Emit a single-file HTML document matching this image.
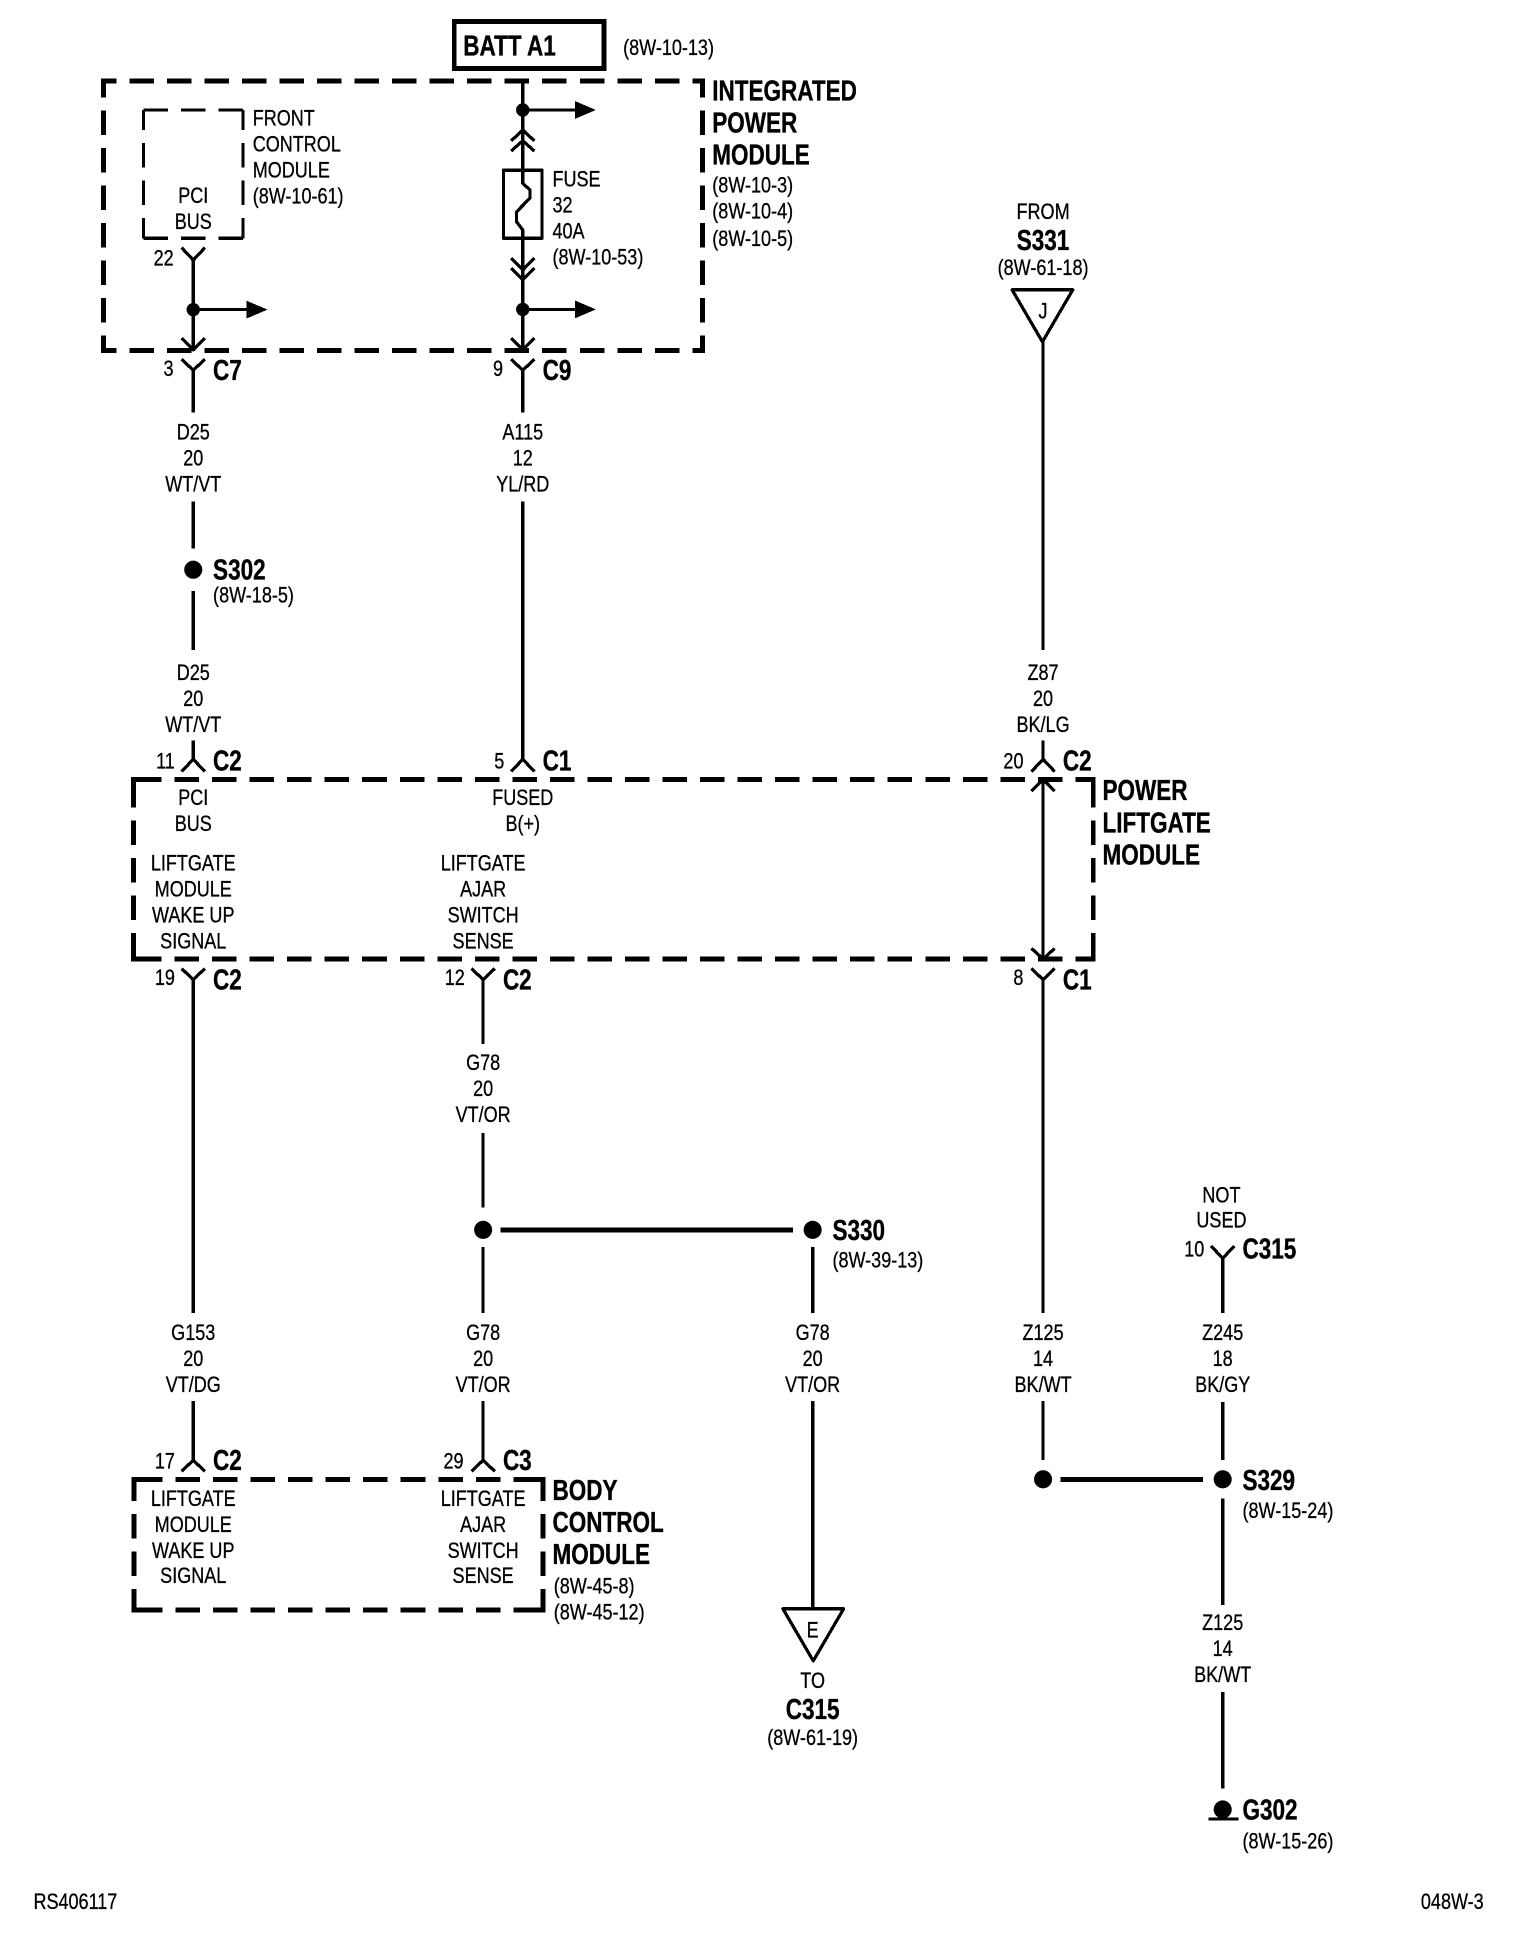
<!DOCTYPE html>
<html><head><meta charset="utf-8"><style>
html,body{margin:0;padding:0;background:#fff}
svg{display:block}
text{font-family:"Liberation Sans",Arial,sans-serif;fill:#000;stroke:#000;transform-box:fill-box}
.r{font-size:18.2px;stroke-width:.25;transform-origin:0 50%;transform:translateY(-.5px) scaleX(.8)}
.c{font-size:18.2px;stroke-width:.25;text-anchor:middle;transform-origin:50% 50%;transform:translateY(-1px) scaleX(.8)}
.b{font-size:23px;font-weight:bold;stroke-width:.3;transform-origin:0 50%;transform:scaleX(.79)}
.bc{font-size:23px;font-weight:bold;stroke-width:.3;text-anchor:middle;transform-origin:50% 50%;transform:scaleX(.79)}
.w{fill:none;stroke:#000;stroke-width:2.6;stroke-linejoin:round}
.t{fill:none;stroke:#000;stroke-width:4}
.d{fill:none;stroke:#000;stroke-width:4;stroke-dasharray:19.8 10.5}
.d2{fill:none;stroke:#000;stroke-width:2.5;stroke-dasharray:20 10.3}
path,rect{shape-rendering:crispEdges}
circle{shape-rendering:geometricPrecision}
</style></head><body>
<svg xmlns="http://www.w3.org/2000/svg" width="1520" height="1942" viewBox="0 0 1227 1568" preserveAspectRatio="none">
<rect width="1227" height="1568" fill="#fff"/>
<rect x="366.700" y="17.300" width="121" height="38" class="t"/>
<text x="374" y="45" class="b">BATT A1</text>
<text x="503" y="45" class="r">(8W-10-13)</text>

<!-- IPM -->
<path class="d" stroke-dashoffset="9.500" d="M83.600 65.300H567M83.600 283H567"/>
<path class="d" stroke-dashoffset="6.500" d="M83.600 65.300V283M567 65.300V283"/>
<path class="t" d="M83.600 70V65.300H88M562 65.300H567V70M83.600 278V283H88M562 283H567V278"/>
<!-- FCM -->
<path class="d2" d="M115.700 88.800H196M115.700 192.400H196"/>
<path class="d2" stroke-dashoffset="3.800" d="M115.700 88.800V192.400M196 88.800V192.400"/>
<!-- PLM -->
<path class="d" stroke-dashoffset="-3" d="M107.600 629.200H882.500M107.600 774.300H882.500"/>
<path class="d" stroke-dashoffset="-2.800" d="M107.600 629.200V774.300M882.500 629.200V774.300"/>
<path class="t" d="M107.600 634V629.200H112M878 629.200H882.500V634M107.600 770V774.300H112M878 774.300H882.500V770"/>
<!-- BCM -->
<path class="d" stroke-dashoffset="-3.400" d="M108 1194.500H438.500M108 1300H438.500"/>
<path class="d" stroke-dashoffset="2.300" d="M108 1194.500V1300M438.500 1194.500V1300"/>
<path class="t" d="M108 1199V1194.500H112M434 1194.500H438.500V1199M108 1296V1300H112M434 1300H438.500V1296"/>

<g class="w">
<path d="M146.600 200L156 210L165.400 200M156 210V282M146.600 273L156 282.600L165.400 273M146.600 290L156 299L165.400 290M156 299V333"/>
<path d="M156 250H200"/>
<path d="M422 65.300V137M412.600 113.800L422 105L431.400 113.800M412.600 122L422 113.600L431.400 122"/>
<path d="M422 88.800H466"/>
<rect x="406.500" y="137.400" width="31" height="55"/>
<path d="M422 137V148L427.800 153.400V160L417 171V179L422 185.700V282"/>
<path d="M412.600 208.400L422 218L431.400 208.400M412.600 216.400L422 226L431.400 216.400M412.600 273L422 282.600L431.400 273M412.600 290L422 299L431.400 290M422 299V333"/>
<path d="M422 249.800H466"/>
<path d="M156 405V443M156 477V525M156 598V613M146.600 623L156 613L165.400 623"/>
<path d="M422 405V613M412.600 623L422 613L431.400 623"/>
<path d="M842 276V525M842 598V613M832.600 623L842 613L851.400 623M832.600 638.700L842 629.200L851.400 638.700M842 629.200V774M832.600 765.700L842 774.300L851.400 765.700"/>
<path d="M146.600 782L156 791L165.400 782M156 791V1060M156 1131V1179M146.600 1188L156 1179L165.400 1188"/>
<path d="M380.600 782L390 791L399.400 782M390 791V843M390 915V975M390 1007V1060M390 1131V1179M380.600 1188L390 1179L399.400 1188"/>
<path d="M656 1007V1060M656 1131V1298"/>
<path d="M832.600 782L842 791L851.400 782M842 791V1060M842 1131V1179"/>
<path d="M977.600 1006L987 1016L996.400 1006M987 1016V1060M987 1132V1179M987 1210V1296M987 1366V1444"/>
<path d="M817 234H866L841.500 276Z"/>
<path d="M632 1299H681L656.500 1341Z"/>
</g>
<path class="t" d="M404 993H640M856 1194.400H971"/>
<path class="t" style="stroke-width:2.800" d="M975.400 1468.700H999.600"/>
<g fill="#000">
<circle cx="156" cy="250" r="5.400"/><circle cx="422" cy="88.800" r="5.400"/><circle cx="422" cy="249.800" r="5.400"/>
<path d="M199 242.800L216 250L199 257.200ZM464.200 81.600L481 88.800L464.200 96ZM464.200 242.600L481 249.800L464.200 257Z"/>
<circle cx="156" cy="460" r="7.300"/><circle cx="390" cy="993" r="7.300"/><circle cx="656" cy="993" r="7.300"/>
<circle cx="842" cy="1194.400" r="7.300"/><circle cx="987" cy="1194.400" r="7.300"/><circle cx="987" cy="1461" r="7.300"/>
</g>

<text x="575" y="81" class="b">INTEGRATED</text>
<text x="575" y="107" class="b">POWER</text>
<text x="575" y="133" class="b">MODULE</text>
<text x="575" y="156" class="r">(8W-10-3)</text>
<text x="575" y="177" class="r">(8W-10-4)</text>
<text x="575" y="199" class="r">(8W-10-5)</text>
<text x="204" y="102" class="r">FRONT</text>
<text x="204" y="123" class="r">CONTROL</text>
<text x="204" y="144" class="r">MODULE</text>
<text x="204" y="165" class="r">(8W-10-61)</text>
<text x="156" y="165" class="c">PCI</text>
<text x="156" y="186" class="c">BUS</text>
<text x="446" y="151" class="r">FUSE</text>
<text x="446" y="172" class="r">32</text>
<text x="446" y="193" class="r">40A</text>
<text x="446" y="214" class="r">(8W-10-53)</text>
<text x="124" y="215" class="r">22</text>
<text x="132" y="304" class="r">3</text>
<text x="172" y="307" class="b">C7</text>
<text x="398" y="304" class="r">9</text>
<text x="438" y="307" class="b">C9</text>

<text x="156" y="356" class="c">D25</text><text x="156" y="377" class="c">20</text><text x="156" y="398" class="c">WT/VT</text>
<text x="422" y="356" class="c">A115</text><text x="422" y="377" class="c">12</text><text x="422" y="398" class="c">YL/RD</text>
<text x="172" y="468" class="b">S302</text>
<text x="172" y="487" class="r">(8W-18-5)</text>
<text x="156" y="550" class="c">D25</text><text x="156" y="571" class="c">20</text><text x="156" y="592" class="c">WT/VT</text>
<text x="842" y="550" class="c">Z87</text><text x="842" y="571" class="c">20</text><text x="842" y="592" class="c">BK/LG</text>
<text x="842" y="178" class="c">FROM</text>
<text x="842" y="202" class="bc">S331</text>
<text x="842" y="223" class="c">(8W-61-18)</text>
<text x="842" y="258" class="c">J</text>

<text x="126" y="621" class="r">11</text><text x="172" y="622" class="b">C2</text>
<text x="399" y="621" class="r">5</text><text x="438" y="622" class="b">C1</text>
<text x="810" y="621" class="r">20</text><text x="858" y="622" class="b">C2</text>
<text x="156" y="651" class="c">PCI</text><text x="156" y="672" class="c">BUS</text>
<text x="422" y="651" class="c">FUSED</text><text x="422" y="672" class="c">B(+)</text>
<text x="156" y="704" class="c">LIFTGATE</text><text x="156" y="725" class="c">MODULE</text><text x="156" y="746" class="c">WAKE UP</text><text x="156" y="767" class="c">SIGNAL</text>
<text x="390" y="704" class="c">LIFTGATE</text><text x="390" y="725" class="c">AJAR</text><text x="390" y="746" class="c">SWITCH</text><text x="390" y="767" class="c">SENSE</text>
<text x="890" y="646" class="b">POWER</text><text x="890" y="672" class="b">LIFTGATE</text><text x="890" y="698" class="b">MODULE</text>
<text x="125" y="796" class="r">19</text><text x="172" y="799" class="b">C2</text>
<text x="359" y="796" class="r">12</text><text x="406" y="799" class="b">C2</text>
<text x="818" y="796" class="r">8</text><text x="858" y="799" class="b">C1</text>

<text x="390" y="865" class="c">G78</text><text x="390" y="886" class="c">20</text><text x="390" y="907" class="c">VT/OR</text>
<text x="672" y="1001" class="b">S330</text><text x="672" y="1024" class="r">(8W-39-13)</text>
<text x="986" y="972" class="c">NOT</text><text x="986" y="992" class="c">USED</text>
<text x="956" y="1015" class="r">10</text><text x="1003" y="1016" class="b">C315</text>

<text x="156" y="1083" class="c">G153</text><text x="156" y="1104" class="c">20</text><text x="156" y="1125" class="c">VT/DG</text>
<text x="390" y="1083" class="c">G78</text><text x="390" y="1104" class="c">20</text><text x="390" y="1125" class="c">VT/OR</text>
<text x="656" y="1083" class="c">G78</text><text x="656" y="1104" class="c">20</text><text x="656" y="1125" class="c">VT/OR</text>
<text x="842" y="1083" class="c">Z125</text><text x="842" y="1104" class="c">14</text><text x="842" y="1125" class="c">BK/WT</text>
<text x="987" y="1083" class="c">Z245</text><text x="987" y="1104" class="c">18</text><text x="987" y="1125" class="c">BK/GY</text>

<text x="125" y="1186" class="r">17</text><text x="172" y="1187" class="b">C2</text>
<text x="358" y="1186" class="r">29</text><text x="406" y="1187" class="b">C3</text>
<text x="156" y="1217" class="c">LIFTGATE</text><text x="156" y="1238" class="c">MODULE</text><text x="156" y="1259" class="c">WAKE UP</text><text x="156" y="1279" class="c">SIGNAL</text>
<text x="390" y="1217" class="c">LIFTGATE</text><text x="390" y="1238" class="c">AJAR</text><text x="390" y="1259" class="c">SWITCH</text><text x="390" y="1279" class="c">SENSE</text>
<text x="446" y="1211" class="b">BODY</text><text x="446" y="1237" class="b">CONTROL</text><text x="446" y="1263" class="b">MODULE</text>
<text x="447" y="1287" class="r">(8W-45-8)</text><text x="447" y="1308" class="r">(8W-45-12)</text>

<text x="656" y="1323" class="c">E</text>
<text x="656" y="1364" class="c">TO</text>
<text x="656" y="1388" class="bc">C315</text>
<text x="656" y="1410" class="c">(8W-61-19)</text>
<text x="1003" y="1203" class="b">S329</text><text x="1003" y="1226" class="r">(8W-15-24)</text>
<text x="987" y="1317" class="c">Z125</text><text x="987" y="1338" class="c">14</text><text x="987" y="1359" class="c">BK/WT</text>
<text x="1003" y="1469" class="b">G302</text><text x="1003" y="1493" class="r">(8W-15-26)</text>
<text x="27" y="1542" class="r">RS406117</text>
<text x="1147" y="1542" class="r">048W-3</text>
</svg>
</body></html>
